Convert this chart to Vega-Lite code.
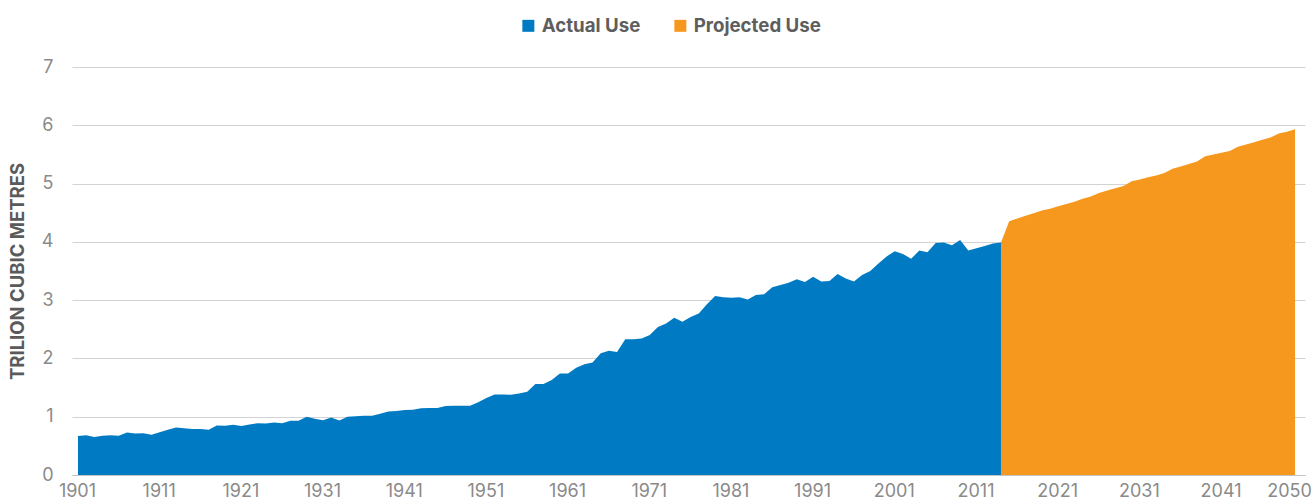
{
  "$schema": "https://vega.github.io/schema/vega-lite/v6.json",
  "autosize": "none",
  "width": 1233,
  "height": 408,
  "padding": {"left": 72, "top": 67, "right": 9, "bottom": 25},
  "background": "white",
  "config": {"view": {"stroke": null}, "font": "Inter"},
  "data": {"values": [
    {"year":1901,"value":0.67,"series":"Actual Use"},{"year":1902,"value":0.68,"series":"Actual Use"},{"year":1903,"value":0.65,"series":"Actual Use"},{"year":1904,"value":0.675,"series":"Actual Use"},{"year":1905,"value":0.68,"series":"Actual Use"},{"year":1906,"value":0.675,"series":"Actual Use"},{"year":1907,"value":0.73,"series":"Actual Use"},{"year":1908,"value":0.71,"series":"Actual Use"},{"year":1909,"value":0.715,"series":"Actual Use"},{"year":1910,"value":0.69,"series":"Actual Use"},
    {"year":1911,"value":0.735,"series":"Actual Use"},{"year":1912,"value":0.775,"series":"Actual Use"},{"year":1913,"value":0.815,"series":"Actual Use"},{"year":1914,"value":0.80,"series":"Actual Use"},{"year":1915,"value":0.79,"series":"Actual Use"},{"year":1916,"value":0.79,"series":"Actual Use"},{"year":1917,"value":0.775,"series":"Actual Use"},{"year":1918,"value":0.85,"series":"Actual Use"},{"year":1919,"value":0.845,"series":"Actual Use"},{"year":1920,"value":0.86,"series":"Actual Use"},
    {"year":1921,"value":0.84,"series":"Actual Use"},{"year":1922,"value":0.865,"series":"Actual Use"},{"year":1923,"value":0.89,"series":"Actual Use"},{"year":1924,"value":0.885,"series":"Actual Use"},{"year":1925,"value":0.90,"series":"Actual Use"},{"year":1926,"value":0.89,"series":"Actual Use"},{"year":1927,"value":0.93,"series":"Actual Use"},{"year":1928,"value":0.93,"series":"Actual Use"},{"year":1929,"value":1.0,"series":"Actual Use"},{"year":1930,"value":0.965,"series":"Actual Use"},
    {"year":1931,"value":0.94,"series":"Actual Use"},{"year":1932,"value":0.985,"series":"Actual Use"},{"year":1933,"value":0.935,"series":"Actual Use"},{"year":1934,"value":1.0,"series":"Actual Use"},{"year":1935,"value":1.01,"series":"Actual Use"},{"year":1936,"value":1.015,"series":"Actual Use"},{"year":1937,"value":1.015,"series":"Actual Use"},{"year":1938,"value":1.05,"series":"Actual Use"},{"year":1939,"value":1.09,"series":"Actual Use"},{"year":1940,"value":1.10,"series":"Actual Use"},
    {"year":1941,"value":1.115,"series":"Actual Use"},{"year":1942,"value":1.12,"series":"Actual Use"},{"year":1943,"value":1.145,"series":"Actual Use"},{"year":1944,"value":1.15,"series":"Actual Use"},{"year":1945,"value":1.15,"series":"Actual Use"},{"year":1946,"value":1.185,"series":"Actual Use"},{"year":1947,"value":1.19,"series":"Actual Use"},{"year":1948,"value":1.19,"series":"Actual Use"},{"year":1949,"value":1.19,"series":"Actual Use"},{"year":1950,"value":1.25,"series":"Actual Use"},
    {"year":1951,"value":1.32,"series":"Actual Use"},{"year":1952,"value":1.38,"series":"Actual Use"},{"year":1953,"value":1.38,"series":"Actual Use"},{"year":1954,"value":1.375,"series":"Actual Use"},{"year":1955,"value":1.40,"series":"Actual Use"},{"year":1956,"value":1.43,"series":"Actual Use"},{"year":1957,"value":1.56,"series":"Actual Use"},{"year":1958,"value":1.56,"series":"Actual Use"},{"year":1959,"value":1.63,"series":"Actual Use"},{"year":1960,"value":1.74,"series":"Actual Use"},
    {"year":1961,"value":1.74,"series":"Actual Use"},{"year":1962,"value":1.84,"series":"Actual Use"},{"year":1963,"value":1.90,"series":"Actual Use"},{"year":1964,"value":1.93,"series":"Actual Use"},{"year":1965,"value":2.09,"series":"Actual Use"},{"year":1966,"value":2.13,"series":"Actual Use"},{"year":1967,"value":2.11,"series":"Actual Use"},{"year":1968,"value":2.33,"series":"Actual Use"},{"year":1969,"value":2.33,"series":"Actual Use"},{"year":1970,"value":2.34,"series":"Actual Use"},
    {"year":1971,"value":2.40,"series":"Actual Use"},{"year":1972,"value":2.54,"series":"Actual Use"},{"year":1973,"value":2.60,"series":"Actual Use"},{"year":1974,"value":2.70,"series":"Actual Use"},{"year":1975,"value":2.63,"series":"Actual Use"},{"year":1976,"value":2.71,"series":"Actual Use"},{"year":1977,"value":2.77,"series":"Actual Use"},{"year":1978,"value":2.93,"series":"Actual Use"},{"year":1979,"value":3.07,"series":"Actual Use"},{"year":1980,"value":3.05,"series":"Actual Use"},
    {"year":1981,"value":3.04,"series":"Actual Use"},{"year":1982,"value":3.05,"series":"Actual Use"},{"year":1983,"value":3.01,"series":"Actual Use"},{"year":1984,"value":3.09,"series":"Actual Use"},{"year":1985,"value":3.10,"series":"Actual Use"},{"year":1986,"value":3.22,"series":"Actual Use"},{"year":1987,"value":3.26,"series":"Actual Use"},{"year":1988,"value":3.30,"series":"Actual Use"},{"year":1989,"value":3.36,"series":"Actual Use"},{"year":1990,"value":3.31,"series":"Actual Use"},
    {"year":1991,"value":3.40,"series":"Actual Use"},{"year":1992,"value":3.32,"series":"Actual Use"},{"year":1993,"value":3.33,"series":"Actual Use"},{"year":1994,"value":3.45,"series":"Actual Use"},{"year":1995,"value":3.37,"series":"Actual Use"},{"year":1996,"value":3.32,"series":"Actual Use"},{"year":1997,"value":3.43,"series":"Actual Use"},{"year":1998,"value":3.50,"series":"Actual Use"},{"year":1999,"value":3.63,"series":"Actual Use"},{"year":2000,"value":3.75,"series":"Actual Use"},
    {"year":2001,"value":3.84,"series":"Actual Use"},{"year":2002,"value":3.79,"series":"Actual Use"},{"year":2003,"value":3.71,"series":"Actual Use"},{"year":2004,"value":3.85,"series":"Actual Use"},{"year":2005,"value":3.82,"series":"Actual Use"},{"year":2006,"value":3.98,"series":"Actual Use"},{"year":2007,"value":3.99,"series":"Actual Use"},{"year":2008,"value":3.94,"series":"Actual Use"},{"year":2009,"value":4.03,"series":"Actual Use"},{"year":2010,"value":3.85,"series":"Actual Use"},
    {"year":2011,"value":3.89,"series":"Actual Use"},{"year":2012,"value":3.93,"series":"Actual Use"},{"year":2013,"value":3.97,"series":"Actual Use"},{"year":2014,"value":3.99,"series":"Actual Use"},
    {"year":2014,"value":3.99,"series":"Projected Use"},{"year":2015,"value":4.355,"series":"Projected Use"},{"year":2016,"value":4.40,"series":"Projected Use"},{"year":2017,"value":4.45,"series":"Projected Use"},{"year":2018,"value":4.49,"series":"Projected Use"},{"year":2019,"value":4.54,"series":"Projected Use"},{"year":2020,"value":4.57,"series":"Projected Use"},
    {"year":2021,"value":4.61,"series":"Projected Use"},{"year":2022,"value":4.65,"series":"Projected Use"},{"year":2023,"value":4.69,"series":"Projected Use"},{"year":2024,"value":4.74,"series":"Projected Use"},{"year":2025,"value":4.78,"series":"Projected Use"},{"year":2026,"value":4.84,"series":"Projected Use"},{"year":2027,"value":4.88,"series":"Projected Use"},{"year":2028,"value":4.92,"series":"Projected Use"},{"year":2029,"value":4.96,"series":"Projected Use"},{"year":2030,"value":5.04,"series":"Projected Use"},
    {"year":2031,"value":5.07,"series":"Projected Use"},{"year":2032,"value":5.11,"series":"Projected Use"},{"year":2033,"value":5.14,"series":"Projected Use"},{"year":2034,"value":5.18,"series":"Projected Use"},{"year":2035,"value":5.255,"series":"Projected Use"},{"year":2036,"value":5.295,"series":"Projected Use"},{"year":2037,"value":5.335,"series":"Projected Use"},{"year":2038,"value":5.38,"series":"Projected Use"},{"year":2039,"value":5.47,"series":"Projected Use"},{"year":2040,"value":5.50,"series":"Projected Use"},
    {"year":2041,"value":5.53,"series":"Projected Use"},{"year":2042,"value":5.56,"series":"Projected Use"},{"year":2043,"value":5.63,"series":"Projected Use"},{"year":2044,"value":5.67,"series":"Projected Use"},{"year":2045,"value":5.71,"series":"Projected Use"},{"year":2046,"value":5.75,"series":"Projected Use"},{"year":2047,"value":5.79,"series":"Projected Use"},{"year":2048,"value":5.86,"series":"Projected Use"},{"year":2049,"value":5.89,"series":"Projected Use"},{"year":2050,"value":5.93,"series":"Projected Use"}
  ]},
  "mark": {"type": "area", "interpolate": "linear"},
  "encoding": {
    "x": {
      "field": "year", "type": "quantitative",
      "scale": {"domain": [1900.27, 2051.22], "nice": false, "zero": false},
      "axis": {
        "title": null,
        "values": [1901, 1911, 1921, 1931, 1941, 1951, 1961, 1971, 1981, 1991, 2001, 2011, 2021, 2031, 2041, 2050],
        "format": "d", "grid": false, "ticks": false,
        "domainColor": "#c4c4c4", "domainWidth": 1,
        "labelColor": "#8a8a8a", "labelFontSize": 18, "labelPadding": 7,
        "labelFlush": false, "labelOverlap": false,
        "labelOffset": {"condition": {"test": "datum.value == 2050", "value": -6}, "value": -1}
      }
    },
    "y": {
      "field": "value", "type": "quantitative", "stack": null,
      "scale": {"domain": [0, 7], "nice": false},
      "axis": {
        "title": "TRILION CUBIC METRES",
        "values": [0, 1, 2, 3, 4, 5, 6, 7],
        "grid": true, "gridColor": "#d3d3d3", "gridWidth": 1,
        "domain": false, "ticks": false,
        "labelColor": "#8a8a8a", "labelFontSize": 18, "labelPadding": 19,
        "titleFontSize": 18.5, "titleFontWeight": "bold", "titleColor": "#5a5a5a",
        "titleX": -45, "titleY": 204
      }
    },
    "color": {
      "field": "series", "type": "nominal",
      "scale": {"domain": ["Actual Use", "Projected Use"], "range": ["#007BC3", "#F7981E"]},
      "legend": {
        "title": null, "orient": "none", "direction": "horizontal",
        "legendX": 447, "legendY": -51,
        "symbolType": "square", "symbolSize": 144, "symbolStrokeWidth": 0,
        "labelFontSize": 18.7, "labelFontWeight": "bold", "labelColor": "#5e5e5e",
        "labelOffset": 4, "columnPadding": 30
      }
    }
  }
}
